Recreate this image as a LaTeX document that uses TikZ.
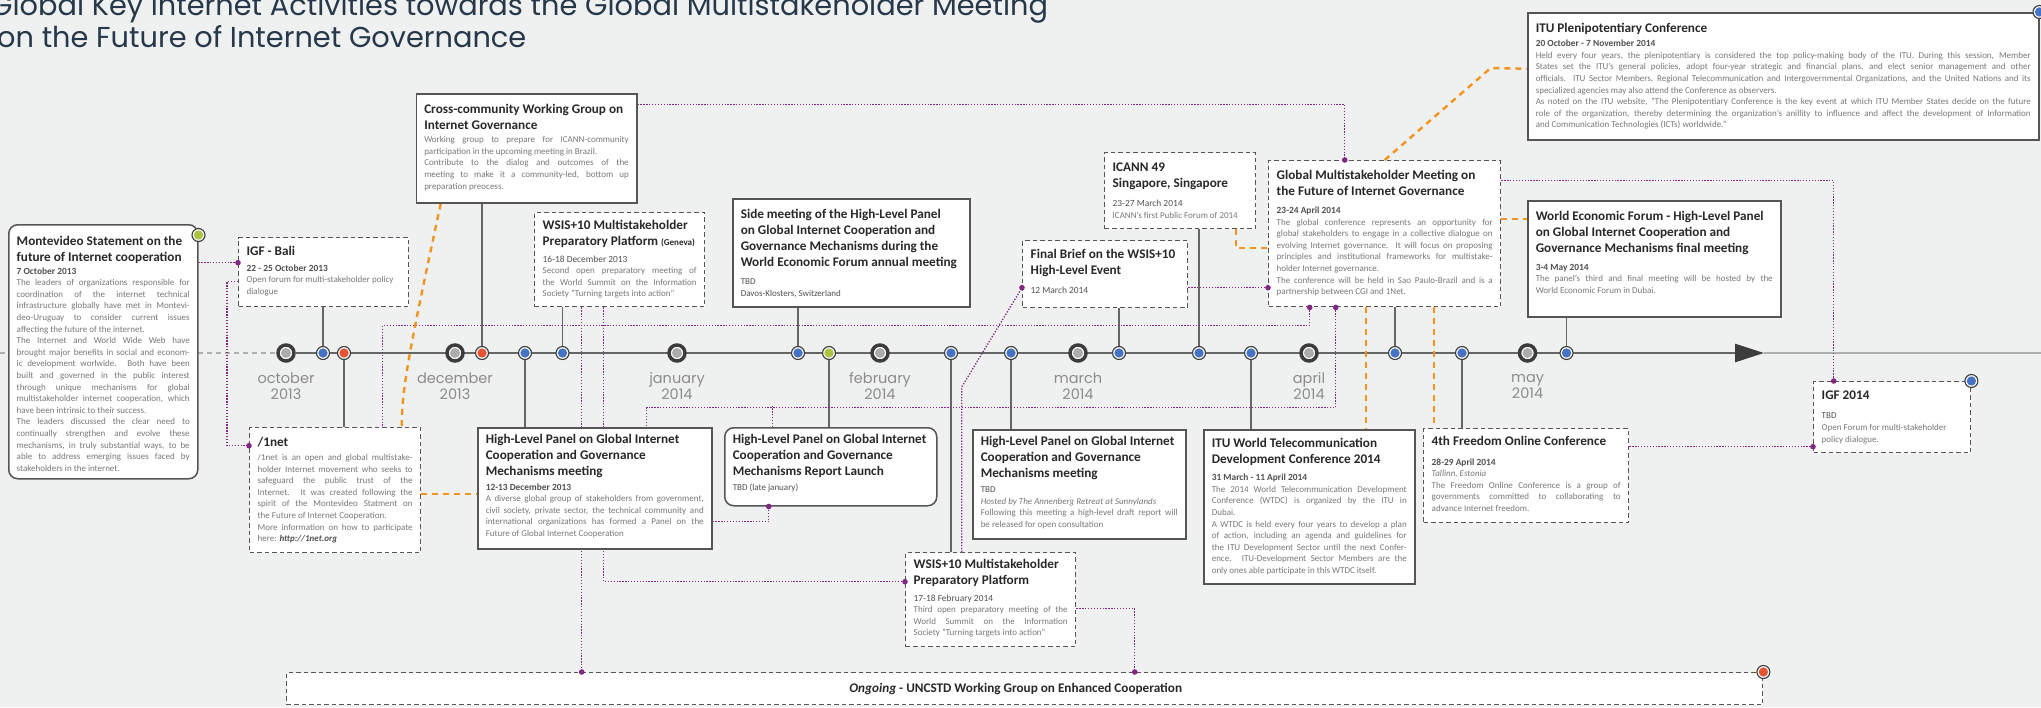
\documentclass[tikz,border=0pt]{standalone}
\usepackage{fontspec}
\setmainfont{Carlito}
\newfontfamily\headfont{Poppins}
\usetikzlibrary{arrows.meta}

\definecolor{bgcolor}{RGB}{239,240,240}
\definecolor{boxgray}{RGB}{85,85,85}
\definecolor{stemgray}{RGB}{102,102,102}
\definecolor{ringdark}{RGB}{60,60,60}
\definecolor{ringfill}{RGB}{244,244,244}
\definecolor{dotgray}{RGB}{172,172,172}
\definecolor{lightline}{RGB}{175,175,175}
\definecolor{linkpurple}{RGB}{130,40,130}
\definecolor{feedorange}{RGB}{242,148,30}
\definecolor{evblue}{RGB}{68,114,196}
\definecolor{evred}{RGB}{232,84,50}
\definecolor{evgreen}{RGB}{170,196,60}
\definecolor{headblue}{RGB}{38,56,74}
\definecolor{monthgray}{RGB}{140,140,140}
\definecolor{headgray}{RGB}{40,40,40}
\definecolor{dategray}{RGB}{80,80,80}
\definecolor{bodygray}{RGB}{120,120,120}

\pgfdeclarelayer{canvas}
\pgfdeclarelayer{wires}
\pgfsetlayers{canvas,wires,main}

% text of the event boxes
\newcommand{\evt}{\fontsize{13.2}{16}\selectfont\bfseries\color{headgray}}
\newcommand{\evd}{\fontsize{9.4}{11.6}\selectfont\bfseries\color{dategray}}
\newcommand{\evb}{\fontsize{9}{11.6}\selectfont\color{bodygray}}
% name, left, top, right, bottom, style, content
\newcommand{\evnode}[7]{%
  \node[#6, anchor=north west, inner sep=0pt, minimum width={#4-#2}, minimum height={#5-#3}]
    (#1) at (#2,#3)
    {\hspace*{8pt}\parbox[c][\dimexpr#5pt-#3pt\relax][t]{\dimexpr#4pt-#2pt-16pt\relax}{#7}\hspace*{8pt}};%
}

\begin{document}
\begin{tikzpicture}[x=1pt, y=-1pt,
    evsolid/.style={draw=boxgray, line width=1.5pt, fill=white},
    evdashed/.style={draw=boxgray, line width=1.4pt, fill=white, dash pattern=on 4.5pt off 3pt},
    evround/.style={evsolid, rounded corners=9pt},
    milestone/.style={circle, draw=ringdark, line width=3.5pt, fill=white, minimum size=16pt, inner sep=0pt,
      path picture={\fill[dotgray] (path picture bounding box.center) circle (5pt);}},
    event/.style={circle, draw=ringdark, line width=1.1pt, fill=ringfill, minimum size=13pt, inner sep=0pt,
      path picture={\fill[#1] (path picture bounding box.center) circle (4.6pt);}},
    monthlabel/.style={font=\headfont\fontsize{14.5}{16}\selectfont, text=monthgray, align=center, inner sep=0pt},
    headline/.style={font=\headfont\fontsize{28.8}{32}\selectfont, text=headblue, inner sep=0pt, anchor=base west},
    timeline/.style={draw=stemgray, line width=2.6pt, -{Triangle[length=29pt,width=18pt,color=ringdark]}},
    preline/.style={draw=lightline, line width=1.5pt, dash pattern=on 5pt off 4pt},
    postline/.style={draw=lightline, line width=1.5pt},
    stem/.style={draw=stemgray, line width=1.8pt},
    purplelink/.style={draw=linkpurple, line width=1.3pt, dash pattern=on 1.3pt off 1.6pt},
    orangelink/.style={draw=feedorange, line width=2.4pt, dash pattern=on 6pt off 5pt}]

  \useasboundingbox (0,0) rectangle (2041,707);
  \begin{pgfonlayer}{canvas}
    \fill[bgcolor] (0,0) rectangle (2041,707);
  \end{pgfonlayer}

  % headline
  \node[headline] (head1) at (-10,15) {Global Key Internet Activities towards the Global Multistakeholder Meeting};
  \node[headline] (head2) at (-3,47) {on the Future of Internet Governance};

  % timeline
  \foreach \i/\x/\m/\yr in {1/286/october/2013, 2/455/december/2013, 3/677/january/2014,
      4/880/february/2014, 5/1078/march/2014, 6/1309/april/2014, 7/1527.5/may/2014} {
    \node[milestone] (mon-\i) at (\x,353) {};
    \node[monthlabel] (lab-\i) at (\x,386) {\m\\\yr};
  }
  \foreach \n/\x/\c in {tBali/323/evblue, tOne/344/evred, tCc/482/evred, tHlp/525/evblue,
      tWsisg/562.5/evblue, tSide/798/evblue, tReport/829/evgreen, tWsisf/951/evblue,
      tSunny/1011/evblue, tBrief/1119/evblue, tIcann/1199/evblue, tWtdc/1251/evblue,
      tGmm/1395/evblue, tFoc/1462/evblue, tWef/1566.5/evblue}
    \node[event=\c] (\n) at (\x,353) {};
  \coordinate (tlIn) at (0,353);
  \coordinate (tlTip) at (1764,353);
  \coordinate (tlOut) at (2041,353);

  % events above the timeline
  \evnode{mont}{8}{224}{197}{478}{evround}{\vspace*{11pt}%
    {\evt Montevideo Statement on the\\ future of Internet cooperation\par}\vspace{1.5pt}%
    {\evd 7 October 2013\par}%
    {\evb The leaders of organizations responsible for\linebreak coordination of the internet technical\linebreak
     infrastructure globally have met in Montevi-\linebreak deo-Uruguay to consider current issues\linebreak
     affecting the future of the internet.\par
     The Internet and World Wide Web have\linebreak brought major benefits in social and econom-\linebreak
     ic development worlwide. Both have been\linebreak built and governed in the public interest\linebreak
     through unique mechanisms for global\linebreak multistakeholder internet cooperation, which\linebreak
     have been intrinsic to their success.\par
     The leaders discussed the clear need to\linebreak continually strengthen and evolve these\linebreak
     mechanisms, in truly substantial ways, to be\linebreak able to address emerging issues faced by\linebreak
     stakeholders in the internet.\par}}
  \evnode{bali}{238}{237}{408}{306}{evdashed}{\vspace*{9pt}%
    {\evt IGF - Bali\par}\vspace{3.5pt}%
    {\evd 22 - 25 October 2013\par}%
    {\evb Open forum for multi-stakeholder policy\\ dialogue\par}}
  \evnode{cc}{415.5}{93}{636}{202}{evsolid}{\vspace*{10pt}%
    {\evt Cross-community Working Group on\\ Internet Governance\par}\vspace{2pt}%
    {\evb Working group to prepare for ICANN-community\linebreak participation in the upcoming meeting in Brazil.\par
     Contribute to the dialog and outcomes of the\linebreak meeting to make it a community-led, bottom up\linebreak
     preparation preocess.\par}}
  \evnode{wsisg}{534}{212}{704}{306}{evdashed}{\vspace*{8pt}%
    {\evt WSIS+10 Multistakeholder\\ Preparatory Platform {\fontsize{9}{16}\selectfont(Geneva)}\par}\vspace{4.5pt}%
    {\evd\mdseries 16-18 December 2013\par}%
    {\evb Second open preparatory meeting of\linebreak the World Summit on the Information\linebreak
     Society "Turning targets into action"\par}}
  \evnode{side}{732}{198}{969}{306}{evsolid}{\vspace*{10pt}%
    {\evt Side meeting of the High-Level Panel\\ on Global Internet Cooperation and\\
     Governance Mechanisms during the\\ World Economic Forum annual meeting\par}\vspace{7pt}%
    {\evb\color{dategray}TBD\\ Davos-Klosters, Switzerland\par}}
  \evnode{icann}{1104}{152}{1255}{228}{evdashed}{\vspace*{10pt}%
    {\evt ICANN 49\\ Singapore, Singapore\par}\vspace{7.5pt}%
    {\evd\mdseries 23-27 March 2014\par}%
    {\evb ICANN's first Public Forum of 2014\par}}
  \evnode{brief}{1022}{240}{1187}{307}{evdashed}{\vspace*{9pt}%
    {\evt Final Brief on the WSIS+10\\ High-Level Event\par}\vspace{7pt}%
    {\evd\mdseries 12 March 2014\par}}
  \evnode{gmm}{1268}{160}{1500}{306}{evdashed}{\vspace*{10pt}%
    {\evt Global Multistakeholder Meeting on\\ the Future of Internet Governance\par}\vspace{6pt}%
    {\evd 23-24 April 2014\par}%
    {\evb The global conference represents an opportunity for\linebreak global stakeholders to engage in a collective dialogue on\linebreak
     evolving Internet governance. It will focus on proposing\linebreak principles and institutional frameworks for multistake-\linebreak
     holder Internet governance.\par
     The conference will be held in Sao Paulo-Brazil and is a\linebreak partnership between CGI and 1Net.\par}}
  \evnode{wef}{1527}{200}{1780}{316}{evsolid}{\vspace*{10.5pt}%
    {\evt World Economic Forum - High-Level Panel\\ on Global Internet Cooperation and\\
     Governance Mechanisms final meeting\par}\vspace{6pt}%
    {\evd 3-4 May 2014\par}%
    {\evb The panel's third and final meeting will be hosted by the\linebreak World Economic Forum in Dubai.\par}}
  \evnode{itup}{1527}{12}{2038}{139}{evsolid}{\vspace*{10pt}%
    {\evt ITU Plenipotentiary Conference\par}\vspace{3pt}%
    {\evd 20 October - 7 November 2014\par}%
    {\evb Held every four years, the plenipotentiary is considered the top policy-making body of the ITU. During this session, Member\linebreak
     States set the ITU's general policies, adopt four-year strategic and financial plans, and elect senior management and other\linebreak
     officials. ITU Sector Members, Regional Telecommunication and Intergovernmental Organizations, and the United Nations and its\linebreak
     specialized agencies may also attend the Conference as observers.\par
     As noted on the ITU website, "The Plenipotentiary Conference is the key event at which ITU Member States decide on the future\linebreak
     role of the organization, thereby determining the organization's anillity to influence and affect the development of Information\linebreak
     and Communication Technologies (ICTs) worldwide."\par}}

  % events below the timeline
  \evnode{onenet}{249}{427}{420}{552}{evdashed}{\vspace*{10pt}%
    {\evt /1net\par}\vspace{2pt}%
    {\evb /1net is an open and global multistake-\linebreak holder Internet movement who seeks to\linebreak
     safeguard the public trust of the\linebreak Internet. It was created following the\linebreak
     spirit of the Montevideo Statment on\linebreak the Future of Internet Cooperation.\par
     More information on how to participate\linebreak here: {\bfseries\itshape\color{dategray}http://1net.org}\par}}
  \evnode{hlpdec}{477}{427}{711}{548}{evsolid}{\vspace*{6pt}%
    {\evt High-Level Panel on Global Internet\\ Cooperation and Governance\\ Mechanisms meeting\par}\vspace{3.5pt}%
    {\evd 12-13 December 2013\par}%
    {\evb A diverse global group of stakeholders from government,\linebreak civil society, private sector, the technical community and\linebreak
     international organizations has formed a Panel on the\linebreak Future of Global Internet Cooperation\par}}
  \evnode{report}{724}{427}{936}{505}{evround}{\vspace*{6pt}%
    {\evt High-Level Panel on Global Internet\\ Cooperation and Governance\\ Mechanisms Report Launch\par}\vspace{4pt}%
    {\evb\color{dategray}TBD (late january)\par}}
  \evnode{sunny}{972}{429}{1185}{538}{evsolid}{\vspace*{6pt}%
    {\evt High-Level Panel on Global Internet\\ Cooperation and Governance\\ Mechanisms meeting\par}\vspace{4pt}%
    {\evb\color{dategray}TBD\par}%
    {\evb\itshape Hosted by The Annenberg Retreat at Sunnylands\par}%
    {\evb Following this meeting a high-level draft report will\linebreak be released for open consultation\par}}
  \evnode{wtdc}{1203}{429}{1414}{583}{evsolid}{\vspace*{8pt}%
    {\evt ITU World Telecommunication\\ Development Conference 2014\par}\vspace{6pt}%
    {\evd 31 March - 11 April 2014\par}%
    {\evb The 2014 World Telecommunication Development\linebreak Conference (WTDC) is organized by the ITU in\linebreak
     Dubai.\par
     A WTDC is held every four years to develop a plan\linebreak of action, including an agenda and guidelines for\linebreak
     the ITU Development Sector until the next Confer-\linebreak ence. ITU-Development Sector Members are the\linebreak
     only ones able participate in this WTDC itself.\par}}
  \evnode{foc}{1423}{428}{1628}{522}{evdashed}{\vspace*{8pt}%
    {\evt 4th Freedom Online Conference\par}\vspace{7.5pt}%
    {\evd 28-29 April 2014\par}%
    {\evb\itshape Tallinn, Estonia\par}%
    {\evb The Freedom Online Conference is a group of\linebreak governments committed to collaborating to\linebreak
     advance Internet freedom.\par}}
  \evnode{igf14}{1813}{381}{1970}{452}{evdashed}{\vspace*{9pt}%
    {\evt IGF 2014\par}\vspace{8pt}%
    {\evb\color{dategray}TBD\par}%
    {\evb Open Forum for multi-stakeholder\\ policy dialogue.\par}}
  \evnode{wsisf}{905}{552}{1075}{646}{evdashed}{\vspace*{7pt}%
    {\evt WSIS+10 Multistakeholder\\ Preparatory Platform\par}\vspace{4.5pt}%
    {\evd\mdseries 17-18 February 2014\par}%
    {\evb Third open preparatory meeting of the\linebreak World Summit on the Information\linebreak
     Society "Turning targets into action"\par}}
  \evnode{ongoing}{286}{672}{1762}{704}{evdashed}{\centering\vspace*{11pt}%
    {\evt\textit{Ongoing} - UNCSTD Working Group on Enhanced Cooperation\hspace*{18pt}\par}}

  % markers on the box corners
  \node[event=evgreen] (cMont) at ([yshift=-11pt]mont.north east) {};
  \node[event=evblue] (cItup) at (itup.north east) {};
  \node[event=evblue] (cIgf) at (igf14.north east) {};
  \node[event=evred] (cOng) at (ongoing.north east) {};

  % ends of the connectors
  \coordinate (pBaliW) at ([yshift=9.5pt]bali.west);
  \coordinate (pBaliW2) at ([yshift=-9.5pt]bali.west);
  \coordinate (pOneW) at ([yshift=44.5pt]onenet.west);
  \coordinate (pCcE) at ([yshift=43.5pt]cc.east);
  \coordinate (pGmmN) at ([xshift=-40pt]gmm.north);
  \coordinate (pWsisg1) at ([xshift=-38pt]wsisg.south);
  \coordinate (pWsisg2) at ([xshift=-16pt]wsisg.south);
  \coordinate (pOngA) at (pWsisg1 |- ongoing.north);
  \coordinate (pWsisfW) at ([yshift=18pt]wsisf.west);
  \coordinate (pHlpE) at ([yshift=-33.5pt]hlpdec.east);
  \coordinate (pRepS) at ([xshift=-62pt]report.south);
  \coordinate (pGmmS1) at ([xshift=-49pt]gmm.south);
  \coordinate (pHlpN) at ([xshift=52pt]hlpdec.north);
  \coordinate (pRepN) at ([xshift=-58pt]report.north);
  \coordinate (pGmmS2) at ([xshift=-75pt]gmm.south);
  \coordinate (pOneN) at ([xshift=47.5pt]onenet.north);
  \coordinate (pBriefW) at ([yshift=-13.5pt]brief.west);
  \coordinate (wsisfTop) at ([xshift=-29pt]wsisf.north);
  \coordinate (pGmmW) at ([yshift=-54pt]gmm.west);
  \coordinate (pGmmE) at ([yshift=53pt]gmm.east);
  \coordinate (pIgfN) at ([xshift=-58.5pt]igf14.north);
  \coordinate (pIgfW) at ([yshift=-29.5pt]igf14.west);
  \coordinate (pWsisfE) at ([yshift=-9pt]wsisf.east);
  \coordinate (pOngB) at ([xshift=110pt]ongoing.north);
  \coordinate (oCcS) at ([xshift=-85.75pt]cc.south);
  \coordinate (oOneN) at ([xshift=66.5pt]onenet.north);
  \coordinate (oOneE) at ([yshift=-3.5pt]onenet.east);
  \coordinate (oIcannS) at ([xshift=55.5pt]icann.south);
  \coordinate (oGmmW) at ([yshift=-14pt]gmm.west);
  \coordinate (oItupW) at ([yshift=7.5pt]itup.west);
  \coordinate (oGmmE) at ([yshift=15pt]gmm.east);
  \coordinate (oGmmS1) at ([xshift=-19pt]gmm.south);
  \coordinate (oGmmS2) at ([xshift=49pt]gmm.south);

  \begin{pgfonlayer}{wires}
    \draw[preline] (tlIn) -- (mon-1);
    \draw[timeline] (mon-1) -- (tlTip);
    \draw[postline] (tlTip) -- (tlOut);
    \foreach \e/\b/\a in {tBali/bali/south, tOne/onenet/north, tCc/cc/south, tHlp/hlpdec/north,
        tWsisg/wsisg/south, tSide/side/south, tReport/report/north, tWsisf/wsisf/north,
        tSunny/sunny/north, tBrief/brief/south, tIcann/icann/south, tWtdc/wtdc/north,
        tGmm/gmm/south, tFoc/foc/north, tWef/wef/south}
      \draw[stem] (\e) -- (\e |- \b.\a);

    \draw[purplelink] (mont.east |- pBaliW) -- (pBaliW);
    \draw[purplelink] (pBaliW2) -- ++(-11,0) |- (pOneW);
    \draw[purplelink] (pCcE) -| (pGmmN);
    \draw[purplelink] (pWsisg1) -- (pOngA);
    \draw[purplelink] (pWsisg2) |- (pWsisfW);
    \draw[purplelink] (pHlpE) -| (pRepS);
    \draw[purplelink] (pGmmS1) -- ++(0,100) -| (pHlpN);
    \draw[purplelink] (pRepN) -- ++(0,-21);
    \draw[purplelink] (pGmmS2) -- ++(0,18) -| (pOneN);
    \draw[purplelink] (wsisfTop) -- ++(0,-165) -- (pBriefW);
    \draw[purplelink] (brief.east |- pGmmW) -- (pGmmW);
    \draw[purplelink] (pGmmE) -| (pIgfN);
    \draw[purplelink] (foc.east |- pIgfW) -- (pIgfW);
    \draw[purplelink] (pWsisfE) -| (pOngB);

    \draw[orangelink] (oCcS) .. controls +(-30,140) and +(0,-40) .. (oOneN);
    \draw[orangelink] (oOneE) -- (oOneE -| hlpdec.west);
    \draw[orangelink] (oIcannS) |- (oGmmW);
    \draw[orangelink] (gmm.north) -- ++(106,-92) -- (oItupW);
    \draw[orangelink] (oGmmE) -- (oGmmE -| wef.west);
    \draw[orangelink] (oGmmS1) -- (oGmmS1 |- wtdc.north);
    \draw[orangelink] (oGmmS2) -- (oGmmS2 |- foc.north);
  \end{pgfonlayer}

  \foreach \p in {pBaliW, pOneW, pGmmN, pOngA, pWsisfW, pRepS, pGmmS1, pGmmS2,
      pBriefW, pGmmW, pIgfN, pIgfW, pOngB}
    \fill[linkpurple] (\p) circle (2.8pt);
\end{tikzpicture}
\end{document}
